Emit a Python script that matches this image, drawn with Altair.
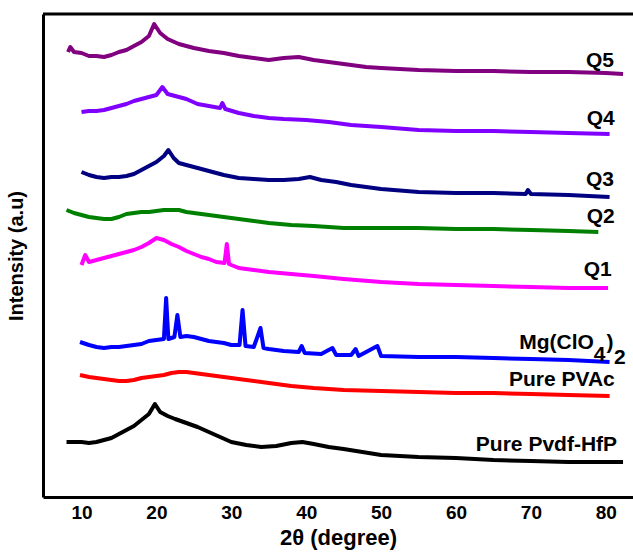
import altair as alt
import pandas as pd

# ---- data (2theta in degrees, intensity in a.u., offset stacked) ----
q5_x = [8.2, 8.5, 9, 10, 11, 12, 13, 14, 15, 16, 17, 18, 19, 19.7, 20.5, 21.5, 23, 25, 27, 29, 31, 33, 35, 37, 39, 41, 43, 45, 48, 50, 55, 60, 65, 70, 75, 80, 82.3]
q5_y = [445, 450, 445, 444, 441, 441, 440, 442, 445, 447, 451, 455, 461, 473, 464, 458, 453, 449, 446, 444, 441, 439, 437, 439, 440, 437, 435, 433, 430, 429, 427, 426, 426, 425, 425, 424, 423]

q4_x = [10, 11, 12, 13, 14, 15, 16, 17, 18, 19, 20, 20.8, 21.5, 22.5, 24, 25.5, 27, 28.5, 28.8, 29.2, 31, 33, 35, 37, 40, 43, 46, 50, 55, 60, 65, 70, 75, 80.5]
q4_y = [385, 386, 386, 387, 389, 391, 393, 396, 398, 400, 402, 410, 403, 401, 398, 393, 391, 389, 394, 388, 384, 381, 379, 378, 377, 375, 372, 370, 367, 366, 366, 365, 364, 363]

q3_x = [10, 11, 12, 13, 14, 15, 16, 17, 18, 19, 20, 21, 21.6, 22.3, 23, 25, 27, 29, 31, 33, 35, 37, 39, 40.5, 42, 44, 46, 50, 55, 60, 65, 69.3, 69.6, 70, 75, 80.5]
q3_y = [325, 322, 320, 319, 320, 320, 321, 323, 327, 331, 335, 341, 347, 339, 334, 330, 326, 322, 319, 318, 317, 317, 318, 320, 317, 315, 312, 308, 305, 304, 304, 303, 307, 303, 302, 300]

q2_x = [8, 9, 10, 11, 12, 13, 14, 15, 16, 17, 18, 19, 20, 21, 22, 23, 24, 25, 27, 29, 31, 33, 35, 38, 41, 45, 50, 55, 60, 65, 70, 75, 79]
q2_y = [287, 284, 282, 280, 279, 278, 278, 280, 283, 284, 285, 285, 286, 287, 287, 287, 285, 284, 282, 280, 278, 276, 274, 272, 271, 269, 269, 269, 268, 268, 267, 266, 265]

q1_x = [10, 10.5, 11, 12, 13, 14, 15, 16, 17, 18, 19, 20, 21, 22, 23, 24, 25, 26, 27, 28, 29.1, 29.4, 29.7, 30, 31, 33, 35, 38, 41, 45, 50, 55, 60, 65, 70, 75, 80.3]
q1_y = [232, 242, 235, 237, 239, 241, 243, 245, 247, 250, 254, 259, 257, 253, 250, 246, 243, 240, 238, 235, 234, 253, 233, 232, 229, 227, 225, 223, 221, 218, 215, 213, 212, 211, 210, 209, 209]

mg_x = [9.8, 11, 12, 13, 14, 15, 16, 17, 18, 19, 20, 21, 21.3, 21.6, 22.4, 22.8, 23.2, 24, 25, 26, 27, 28, 29, 30, 31.1, 31.5, 31.9, 33, 33.9, 34.3, 35, 37, 39, 39.4, 39.8, 42, 43.5, 44, 46, 46.6, 47, 49.5, 50, 55, 60, 65, 70, 75, 80.5]
mg_y = [155, 152, 150, 149, 150, 150, 151, 152, 153, 156, 157, 158, 199, 158, 160, 182, 160, 161, 160, 158, 156, 155, 154, 152, 152, 187, 151, 150, 169, 149, 148, 146, 145, 151, 144, 143, 149, 142, 142, 148, 141, 151, 141, 140, 140, 139, 138, 137, 135]

pvac_x = [9.8, 11, 12, 13, 14, 15, 16, 17, 18, 19, 20, 21, 22, 23, 24, 25, 26, 27, 28, 30, 32, 35, 38, 41, 45, 50, 55, 60, 65, 70, 75, 80.5]
pvac_y = [122, 120, 119, 118, 117, 116, 116, 117, 119, 120, 121, 122, 124, 125, 125, 124, 123, 122, 121, 119, 117, 114, 111, 109, 107, 106, 105, 104, 104, 103, 102, 101]

pvdf_x = [8, 9, 10, 11, 12, 13, 14, 15, 16, 17, 18, 19, 19.8, 20.5, 21.5, 22.5, 24, 25.5, 27, 28.5, 30, 32, 34, 36, 38, 39.5, 41, 43, 45, 50, 55, 60, 65, 70, 75, 80, 82.3]
pvdf_y = [55, 55, 55, 54, 55, 57, 59, 63, 67, 71, 77, 83, 93, 85, 81, 78, 74, 70, 65, 60, 55, 52, 50, 51, 54, 55, 53, 50, 48, 42, 40, 39, 37, 36, 35, 35, 35]

series_names = ["Q5", "Q4", "Q3", "Q2", "Q1", "Mg(ClO4)2", "Pure PVAc", "Pure Pvdf-HfP"]
series_colors = ["#800080", "#8000FF", "#000080", "#008000", "#FF00FF", "#0000FF", "#FF0000", "#000000"]
series_xs = [q5_x, q4_x, q3_x, q2_x, q1_x, mg_x, pvac_x, pvdf_x]
series_ys = [q5_y, q4_y, q3_y, q2_y, q1_y, mg_y, pvac_y, pvdf_y]

# label text, anchor x (degree), y (a.u.)
label_text = ["Q5", "Q4", "Q3", "Q2", "Q1", "Pure PVAc", "Pure Pvdf-HfP"]
label_x = [81.1, 81.2, 81.1, 81.2, 80.8, 81.2, 81.5]
label_y = [436, 378, 317, 280, 227, 117, 52]

mg_parts = ["Mg(ClO", "4", ")", "2"]
mg_part_x = [78.4, 78.4, 80.1, 81.1]
mg_part_y = [154, 142, 154, 139]
mg_part_align = ["right", "left", "left", "left"]

rows = []
for name, xs, ys in zip(series_names, series_xs, series_ys):
    for a, b in zip(xs, ys):
        rows.append({"series": name, "theta": a, "intensity": b})
df = pd.DataFrame(rows)

labels_df = pd.DataFrame({"text": label_text, "theta": label_x, "intensity": label_y})
mg_df = pd.DataFrame({"text": mg_parts, "theta": mg_part_x, "intensity": mg_part_y, "align": mg_part_align})

W, H = 590, 483
FONT = "Liberation Sans"

xscale = alt.Scale(domain=[4.86, 83.63], nice=False, zero=False)
yscale = alt.Scale(domain=[0, 483], nice=False, zero=False)

lines = alt.Chart(df).mark_line(strokeWidth=4, clip=True, strokeJoin="round").encode(
    x=alt.X("theta:Q", scale=xscale,
            axis=alt.Axis(title="2θ (degree)", values=[10, 20, 30, 40, 50, 60, 70, 80],
                          ticks=False, grid=False, domainColor="black", domainWidth=3,
                          labelFont=FONT, labelFontSize=19, labelFontWeight="bold",
                          labelColor="black", labelPadding=6,
                          titleFont=FONT, titleFontSize=22, titleFontWeight="bold",
                          titleColor="black", titlePadding=5)),
    y=alt.Y("intensity:Q", scale=yscale,
            axis=alt.Axis(title="Intensity (a.u)", labels=False, ticks=False, grid=False,
                          domainColor="black", domainWidth=3,
                          titleFont=FONT, titleFontSize=20, titleFontWeight="bold",
                          titleColor="black", titlePadding=17)),
    color=alt.Color("series:N", scale=alt.Scale(domain=series_names, range=series_colors), legend=None),
)

top_border = alt.Chart(pd.DataFrame({"v": [0]})).mark_rule(color="black", strokeWidth=3).encode(
    x=alt.value(0), x2=alt.value(W), y=alt.value(0)
)

texts = alt.Chart(labels_df).mark_text(
    font=FONT, fontSize=21, fontWeight="bold", align="right", baseline="middle", color="black"
).encode(x=alt.X("theta:Q", scale=xscale), y=alt.Y("intensity:Q", scale=yscale), text="text:N")

mg_right = alt.Chart(mg_df[mg_df["align"] == "right"]).mark_text(
    font=FONT, fontSize=21, fontWeight="bold", align="right", baseline="middle", color="black"
).encode(x=alt.X("theta:Q", scale=xscale), y=alt.Y("intensity:Q", scale=yscale), text="text:N")

mg_left = alt.Chart(mg_df[mg_df["align"] == "left"]).mark_text(
    font=FONT, fontSize=21, fontWeight="bold", align="left", baseline="middle", color="black"
).encode(x=alt.X("theta:Q", scale=xscale), y=alt.Y("intensity:Q", scale=yscale), text="text:N")

chart = alt.layer(lines, top_border, texts, mg_right, mg_left).properties(
    width=W, height=H,
    autosize=alt.AutoSizeParams(type="none"),
    padding={"left": 43, "top": 14, "right": 0, "bottom": 56},
    background="white",
).configure_view(stroke=None)

chart.save("out.html", embed_options={"renderer": "svg", "actions": False})
